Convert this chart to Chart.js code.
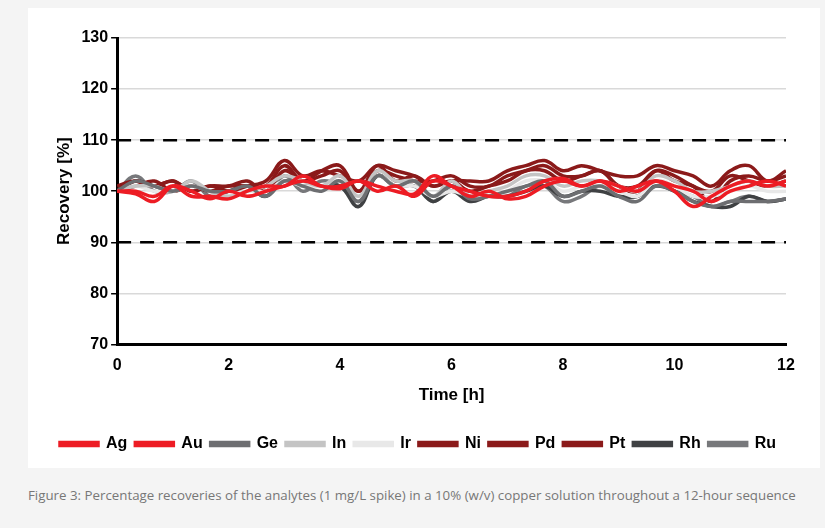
<!DOCTYPE html>
<html>
<head>
<meta charset="utf-8">
<script src="https://cdn.jsdelivr.net/npm/chart.js@4"></script>
<style>
  body { margin: 0; background: #f4f4f4; width: 825px; height: 528px; position: relative; font-family: "Open Sans", sans-serif; }
  #panel { position: absolute; left: 28px; top: 8px; width: 792px; height: 460px; background: #fff; }
  #caption { position: absolute; left: 28px; top: 486px; font-size: 13.3px; color: #777; }
</style>
</head>
<body>
<div id="panel"><canvas id="c" width="792" height="460"></canvas></div>
<div id="caption">Figure 3: Percentage recoveries of the analytes (1 mg/L spike) in a 10% (w/v) copper solution throughout a 12-hour sequence</div>
<script>
// sample times every 20 minutes, 0..12 h
const times = [0,0.333,0.667,1,1.333,1.667,2,2.333,2.667,3,3.333,3.667,4,4.333,4.667,5,5.333,5.667,6,6.333,6.667,7,7.333,7.667,8,8.333,8.667,9,9.333,9.667,10,10.333,10.667,11,11.333,11.667,12];

const ag = [100,99.5,98,101,100,98.5,100,99,100,101,102,101,100.5,102,100,101,99,102,101,99,100,98.5,99,101,102,101,102,101,100,102,101,100,98,100,101,102,101];
const au = [100,100,99,101,99,99,98.5,100,101,101,103,101,101,102,101,100,99.5,103,101,100,99,99,100,102,102.5,101,102,100,101,102,100,97,99,101,102,101,102];
const ge = [100,102,101,100,101,100,100,101,99,102,101,100,102,98,103,101,102,99,101,98.5,99,100,101,102,99,100,101,99,98,101,100,98,97,98,98,98,98.5];
const inn = [100,101,101,100,102,100,99,100,101,103,102,101,103,99,104,102,102,99,102,99,100,101,103,103,101,102,102,101,100,103,102,100,100,101,102,101,101];
const ir = [100,101,100,100,101,100,99,100,100,102,101,101,102,99,103,101,101,99,100,99,99,100,102,102,100,101,101,100,99,102,101,99,99,100,101,100,100];
const ni = [100,102,101,102,100,101,101,102,100,104,102,103,104,100,105,102,103,101,102,100,101,102,104,104,102,103,104,101,101,104,103,101,100,103,102,101,102];
const pd = [100,101,102,100,101,100,101,101,101,105,102,104,105,100,104,103,102,102,103,101,101,103,104,105,103,103,104,101,100,104,102,101,98,102,103,102,103];
const pt = [101,102,101,102,100,101,100,101,102,106,103,104,103,102,105,104,103,101,102,102,102,104,105,106,104,105,104,103,103,105,104,103,101,104,105,102,104];
const rh = [100,102,101,100,101,100,100,101,99,102,101,101,101,97,103,101,101,98,100,98,99,99,100,101,99,100,100,99,99,101,100,98,97,97,99,98,98.5];
const ru = [100,103,100,100,102,99,100,101,99,103,100,102,101,98,103,101,102,98,101,99,99,99,101,101,98,99,101,99,99,102,100,99,97,98,99,98,98.5];

const names = ["Ag","Au","Ge","In","Ir","Ni","Pd","Pt","Rh","Ru"];
const values = [ag,au,ge,inn,ir,ni,pd,pt,rh,ru];
const colors = ["#ed1c24","#ed1c24","#6d6e71","#c4c4c4","#e8e8e8","#8b1a1a","#8b1a1a","#8b1a1a","#3f4143","#77787b"];

const limits = [90, 110];

const datasets = names.map((n, i) => ({
  label: n,
  data: values[i].map((v, j) => ({x: times[j], y: v})),
  borderColor: colors[i],
  backgroundColor: colors[i],
  borderWidth: 3.5,
  pointRadius: 0,
  tension: 0.4,
  fill: false
}));
limits.forEach(l => datasets.push({
  label: "limit",
  data: [{x: 0, y: l}, {x: 12, y: l}],
  borderColor: "#000",
  borderWidth: 2.5,
  borderDash: [14, 9],
  pointRadius: 0
}));

const font = {family: "'Liberation Sans', Arial, sans-serif", weight: "bold", size: 16};

new Chart(document.getElementById("c"), {
  type: "line",
  data: {datasets: datasets},
  options: {
    responsive: false,
    animation: false,
    layout: {padding: {left: 22, right: 34, top: 30, bottom: 6}},
    plugins: {
      legend: {
        position: "bottom",
        labels: {
          filter: item => item.text !== "limit",
          boxWidth: 38, boxHeight: 3, padding: 8,
          color: "#000", font: font
        }
      },
      tooltip: {enabled: false}
    },
    scales: {
      x: {
        type: "linear", min: 0, max: 12,
        ticks: {stepSize: 2, color: "#000", font: font, padding: 4},
        grid: {display: false},
        border: {color: "#000", width: 3},
        title: {display: true, text: "Time [h]", color: "#000", font: {...font, size: 17}, padding: {top: 6, bottom: 22}}
      },
      y: {
        min: 70, max: 130,
        ticks: {stepSize: 10, color: "#000", font: font},
        grid: {color: "#d9d9d9", lineWidth: 1.5, tickColor: "#000", tickLength: 6},
        border: {color: "#000", width: 3},
        title: {display: true, text: "Recovery [%]", color: "#000", font: {...font, size: 17}}
      }
    }
  }
});
</script>
</body>
</html>
